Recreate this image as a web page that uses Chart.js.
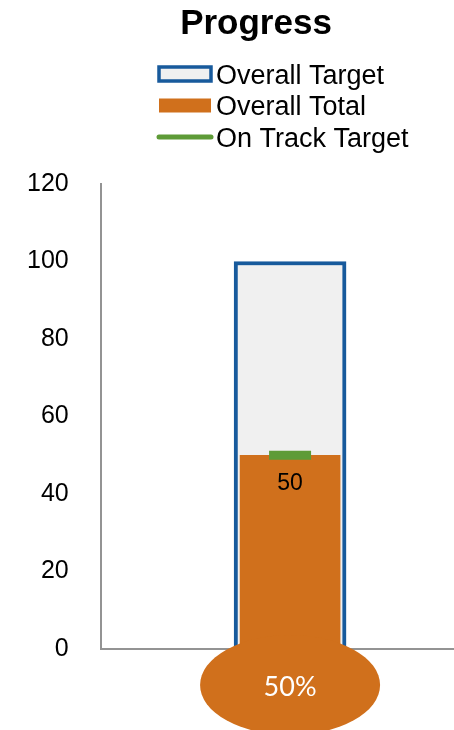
<!DOCTYPE html>
<html lang="en">
<head>
    <meta charset="UTF-8">
    <title>Progress</title>
    <style>
        body { margin: 0; background: #fff; }
        #wrap { width: 454px; height: 730px; }
    </style>
</head>
<body>
    <div id="wrap">
        <canvas id="myChart" width="454" height="730"></canvas>
    </div>
    <script src="https://cdn.jsdelivr.net/npm/chart.js@4.4.1/dist/chart.umd.min.js"></script>
    <script>
        // values
        var chartTitle = 'Progress';
        var categories = ['Progress'];
        var overallTarget = [100];
        var overallTotal = [50];
        var onTrackTarget = [50];
        var seriesNames = ['Overall Target', 'Overall Total', 'On Track Target'];
        var yMin = 0, yMax = 120, yStep = 20;
        // the single column sits a little right of the plot centre
        var xMin = -0.545, xMax = 0.455;

        var blue = '#175a9c';
        var orange = '#d0701c';
        var green = '#5e9b37';
        var paleGrey = '#f0f0f0';

        function toPoints(values) {
            return values.map(function (v, i) { return { x: i, y: v }; });
        }

        // title and a left aligned legend list above the plot
        var header = {
            id: 'header',
            afterDraw: function (chart) {
                var ctx = chart.ctx;
                ctx.save();
                ctx.fillStyle = '#000';
                ctx.font = 'bold 35px "Liberation Sans", Arial, sans-serif';
                ctx.textAlign = 'center';
                ctx.textBaseline = 'alphabetic';
                ctx.fillText(chartTitle, 256, 34);

                var x0 = 157, y0 = 74, rowGap = 31.5;
                ctx.font = '27px "Liberation Sans", Arial, sans-serif';
                ctx.textAlign = 'left';
                chart.data.datasets.forEach(function (ds, i) {
                    var y = y0 + i * rowGap;
                    if (i === 0) {
                        ctx.fillStyle = paleGrey;
                        ctx.fillRect(x0 + 2, y - 7, 52, 14);
                        ctx.strokeStyle = blue;
                        ctx.lineWidth = 3.5;
                        ctx.strokeRect(x0 + 2, y - 7, 52, 14);
                    } else if (i === 1) {
                        ctx.fillStyle = orange;
                        ctx.fillRect(x0 + 2, y - 7, 52, 14);
                    } else {
                        ctx.strokeStyle = green;
                        ctx.lineWidth = 5;
                        ctx.lineCap = 'round';
                        ctx.beginPath();
                        ctx.moveTo(x0 + 2, y);
                        ctx.lineTo(x0 + 54, y);
                        ctx.stroke();
                    }
                    ctx.fillStyle = '#000';
                    ctx.fillText(ds.label, x0 + 59, y + 9.5);
                });
                ctx.restore();
            }
        };

        // the bulb under the thermometer, plus the value label
        var bulb = {
            id: 'bulb',
            afterDatasetsDraw: function (chart) {
                var ctx = chart.ctx;
                var bar = chart.getDatasetMeta(1).data[0];
                var cx = bar.x;
                var cy = chart.scales.y.getPixelForValue(0) + 36;
                ctx.save();
                ctx.fillStyle = orange;
                ctx.beginPath();
                ctx.ellipse(cx, cy, 90, 50, 0, 0, Math.PI * 2);
                ctx.fill();

                var pct = Math.round(overallTotal[0] / overallTarget[0] * 100);
                ctx.fillStyle = '#fff';
                ctx.font = '27px Lato, "Open Sans", sans-serif';
                ctx.textAlign = 'center';
                ctx.textBaseline = 'alphabetic';
                ctx.fillText(pct + '%', cx, cy + 11);

                ctx.fillStyle = '#000';
                ctx.font = '23px "Liberation Sans", Arial, sans-serif';
                ctx.textBaseline = 'middle';
                ctx.fillText(String(overallTotal[0]), bar.x, bar.y + 28);
                ctx.restore();
            }
        };

        var ctx = document.getElementById('myChart').getContext('2d');
        var myChart = new Chart(ctx, {
            type: 'bar',
            data: {
                labels: categories,
                datasets: [
                    {
                        label: seriesNames[0],
                        data: toPoints(overallTarget),
                        backgroundColor: paleGrey,
                        borderColor: blue,
                        borderWidth: 4,
                        barThickness: 112,
                        grouped: false,
                        order: 3
                    },
                    {
                        label: seriesNames[1],
                        data: toPoints(overallTotal),
                        backgroundColor: orange,
                        borderWidth: 0,
                        barThickness: 100,
                        grouped: false,
                        order: 2
                    },
                    {
                        type: 'line',
                        label: seriesNames[2],
                        data: toPoints(onTrackTarget),
                        showLine: false,
                        pointStyle: 'line',
                        pointRadius: 21,
                        pointHoverRadius: 21,
                        pointBorderWidth: 9,
                        pointBorderColor: green,
                        pointBackgroundColor: green,
                        order: 1
                    }
                ]
            },
            options: {
                responsive: false,
                animation: false,
                layout: { autoPadding: false, padding: { left: 27, right: 0, top: 184, bottom: 81 } },
                plugins: {
                    legend: { display: false },
                    tooltip: { enabled: false },
                    title: { display: false }
                },
                scales: {
                    x: {
                        type: 'linear',
                        min: xMin,
                        max: xMax,
                        grid: { display: false, drawTicks: false },
                        ticks: { display: false },
                        border: { display: true, color: '#939393', width: 2 }
                    },
                    y: {
                        min: yMin,
                        max: yMax,
                        grid: { display: false, drawTicks: false },
                        border: { display: true, color: '#939393', width: 2 },
                        ticks: {
                            stepSize: yStep,
                            padding: 32,
                            color: '#000',
                            font: { family: '"Liberation Sans", Arial, sans-serif', size: 25 }
                        },
                        afterFit: function (axis) {
                            // fit() counts the tick padding twice; keep it once
                            axis.width -= axis.options.ticks.padding;
                        }
                    }
                }
            },
            plugins: [header, bulb]
        });
    </script>
</body>
</html>
